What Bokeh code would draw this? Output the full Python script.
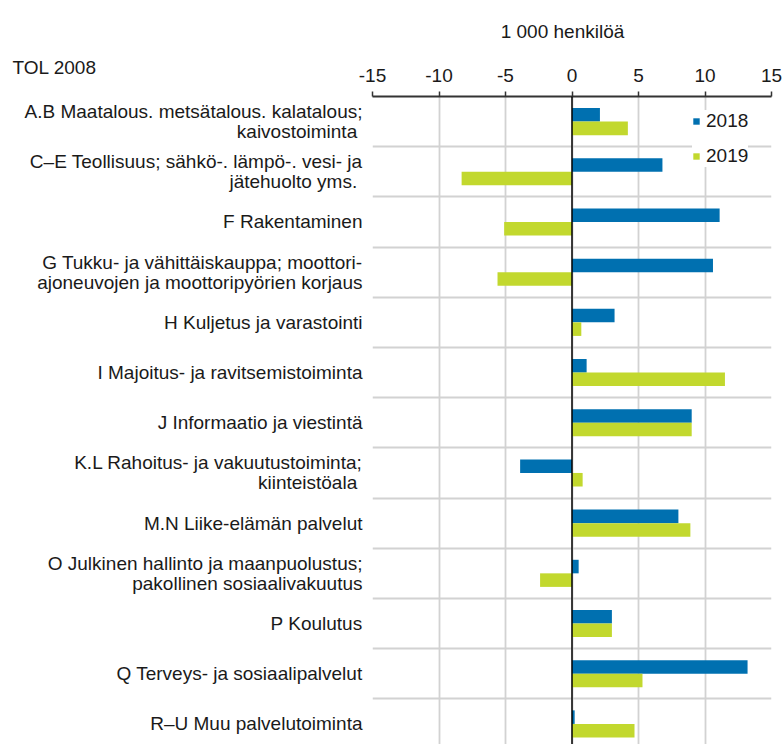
from bokeh.plotting import figure
from bokeh.models import (ColumnDataSource, Range1d, FixedTicker, Span, Label,
                          Legend, LegendItem)
from bokeh.embed import file_html
from bokeh.resources import INLINE

# ---- data -------------------------------------------------------------
categories = [
    "A.B Maatalous. metsätalous. kalatalous;\nkaivostoiminta ",
    "C–E Teollisuus; sähkö-. lämpö-. vesi- ja\njätehuolto yms. ",
    "F Rakentaminen",
    "G Tukku- ja vähittäiskauppa; moottori-\najoneuvojen ja moottoripyörien korjaus",
    "H Kuljetus ja varastointi",
    "I Majoitus- ja ravitsemistoiminta",
    "J Informaatio ja viestintä",
    "K.L Rahoitus- ja vakuutustoiminta;\nkiinteistöala ",
    "M.N Liike-elämän palvelut",
    "O Julkinen hallinto ja maanpuolustus;\npakollinen sosiaalivakuutus",
    "P Koulutus",
    "Q Terveys- ja sosiaalipalvelut",
    "R–U Muu palvelutoiminta",
]
values_2018 = [2.1, 6.8, 11.1, 10.6, 3.2, 1.1, 9.0, -3.9, 8.0, 0.5, 3.0, 13.2, 0.2]
values_2019 = [4.2, -8.3, -5.1, -5.6, 0.7, 11.5, 9.0, 0.8, 8.9, -2.4, 3.0, 5.3, 4.7]
series_names = ["2018", "2019"]
x_ticks = [-15, -10, -5, 0, 5, 10, 15]
unit_label = "1 000 henkilöä"
class_label = "TOL 2008"

# ---- styles -----------------------------------------------------------
FONT = "Liberation Sans"
FS = "19px"
TXT = "#1a1a1a"
BLUE = "#0070b0"
GREEN = "#c2d82e"
GRID = "#d2d2d2"
BAR_H = 0.27
W, H = 784, 744

n = len(categories)
ypos = [n - 1 - i for i in range(n)]

src = ColumnDataSource(dict(
    y18=[y + BAR_H / 2 for y in ypos],
    y19=[y - BAR_H / 2 for y in ypos],
    v18=values_2018,
    v19=values_2019,
))

p = figure(width=W, height=H, output_backend="svg", toolbar_location=None,
           x_range=Range1d(-15, 15), y_range=Range1d(-0.41, n - 0.5),
           x_axis_location="above", y_axis_location="left",
           min_border_left=372, min_border_right=13, min_border_top=96,
           min_border_bottom=0)
p.outline_line_color = None
p.background_fill_color = "white"

r18 = p.hbar(y="y18", left=0, right="v18", height=BAR_H, source=src,
             fill_color=BLUE, line_color=None)
r19 = p.hbar(y="y19", left=0, right="v19", height=BAR_H, source=src,
             fill_color=GREEN, line_color=None)

# x axis (top)
ax = p.xaxis[0]
ax.ticker = FixedTicker(ticks=x_ticks)
ax.major_label_overrides = {t: str(t) for t in x_ticks}
ax.minor_tick_line_color = None
ax.major_tick_in = 0
ax.major_tick_out = 5
ax.major_tick_line_color = "#333333"
ax.major_tick_line_width = 1.5
ax.axis_line_color = "#333333"
ax.axis_line_width = 2
ax.major_label_text_font = FONT
ax.major_label_text_font_size = FS
ax.major_label_text_color = TXT
ax.major_label_standoff = 10

# y axis (category labels)
ay = p.yaxis[0]
ay.ticker = FixedTicker(ticks=ypos)
ay.major_label_overrides = {y: c for y, c in zip(ypos, categories)}
ay.axis_line_color = None
ay.major_tick_line_color = None
ay.minor_tick_line_color = None
ay.major_tick_in = 0
ay.major_tick_out = 0
ay.major_label_standoff = 10
ay.major_label_text_font = FONT
ay.major_label_text_font_size = FS
ay.major_label_text_color = TXT
ay.major_label_text_line_height = 0.95

# grids
p.xgrid.ticker = FixedTicker(ticks=x_ticks)
p.xgrid.grid_line_color = GRID
p.xgrid.grid_line_width = 1.8
p.ygrid.ticker = FixedTicker(ticks=[i + 0.5 for i in range(n - 1)])
p.ygrid.grid_line_color = GRID
p.ygrid.grid_line_width = 1.8

# zero line
p.add_layout(Span(location=0, dimension="height", line_color="#000000",
                  line_width=1.5))

# header texts (placed in the top panel so they are not clipped to the frame)
p.add_layout(Label(x=562, y=31, x_units="canvas", y_units="canvas",
                   text=unit_label, text_align="center", text_baseline="alphabetic",
                   text_font=FONT, text_font_size=FS, text_color=TXT), "above")
p.add_layout(Label(x=12, y=67, x_units="canvas", y_units="canvas",
                   text=class_label, text_align="left", text_baseline="alphabetic",
                   text_font=FONT, text_font_size=FS, text_color=TXT), "above")

# legend
legend = Legend(items=[LegendItem(label=series_names[0], renderers=[r18]),
                       LegendItem(label=series_names[1], renderers=[r19])],
                location=(320, 577), orientation="vertical",
                glyph_width=8, glyph_height=8, label_standoff=6, spacing=13,
                padding=8, border_line_color=None, background_fill_color="white",
                background_fill_alpha=1.0,
                label_text_font=FONT, label_text_font_size=FS,
                label_text_color=TXT)
p.add_layout(legend)

open("out.html", "w").write(file_html(p, INLINE))
